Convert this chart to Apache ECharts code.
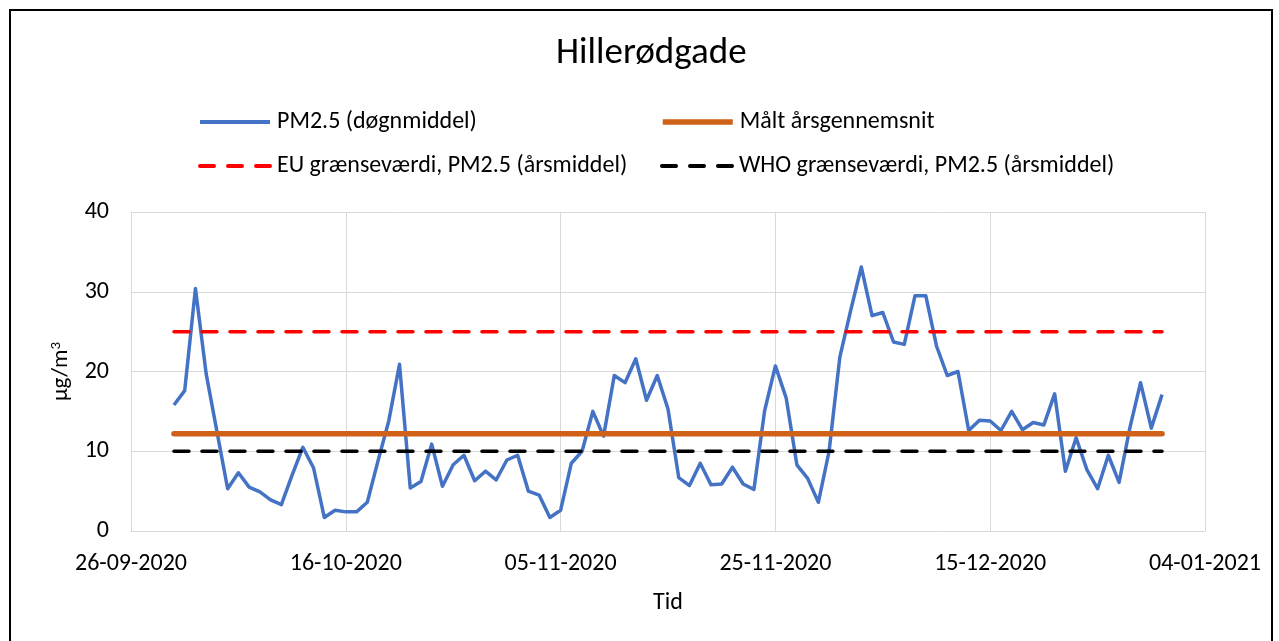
<!DOCTYPE html>
<html><head><meta charset="utf-8">
<script src="https://cdn.jsdelivr.net/npm/echarts@6/dist/echarts.min.js"></script>
<style>html,body{margin:0;padding:0;background:#fff}#c{width:1279px;height:641px}</style>
</head><body><div id="c"></div>
<script>
const chartTitle = 'Hillerødgade';
const seriesNames = ['PM2.5 (døgnmiddel)', 'Målt årsgennemsnit', 'EU grænseværdi, PM2.5 (årsmiddel)', 'WHO grænseværdi, PM2.5 (årsmiddel)'];
const axisStartDate = [2020, 8, 26];   // 26-09-2020 (month 0-based)
const firstDataDate = [2020, 8, 30];   // 30-09-2020
const xTickStepDays = 20;
const xAxisSpanDays = 100;             // 26-09-2020 .. 04-01-2021
const yTicks = [0, 10, 20, 30, 40];
const pm25 = [
  15.8, 17.6, 30.4, 19.7, 12.5, 5.3, 7.3, 5.5, 4.9, 3.9,
  3.3, 7.0, 10.5, 7.9, 1.7, 2.6, 2.4, 2.4, 3.6, 8.8,
  13.8, 20.9, 5.4, 6.2, 10.9, 5.6, 8.3, 9.5, 6.3, 7.5,
  6.4, 8.9, 9.5, 5.0, 4.5, 1.7, 2.6, 8.5, 10.0, 15.0,
  11.9, 19.5, 18.6, 21.6, 16.4, 19.5, 15.3, 6.7, 5.7, 8.5,
  5.8, 5.9, 8.0, 5.9, 5.2, 15.1, 20.7, 16.7, 8.3, 6.6,
  3.6, 10.0, 21.8, 27.6, 33.1, 27.0, 27.4, 23.7, 23.4, 29.5,
  29.5, 23.2, 19.5, 20.0, 12.6, 13.9, 13.8, 12.6, 15.0, 12.7,
  13.6, 13.3, 17.2, 7.5, 11.7, 7.7, 5.3, 9.5, 6.1, 12.9,
  18.6, 12.9, 17.1
];
const maaltAarsgennemsnit = 12.2;
const euGraensevaerdi = 25;
const whoGraensevaerdi = 10;

const DAY = 86400000;
const t0 = Date.UTC(axisStartDate[0], axisStartDate[1], axisStartDate[2]);
const firstOffset = Math.round((Date.UTC(firstDataDate[0], firstDataDate[1], firstDataDate[2]) - t0) / DAY);
const lastOffset = firstOffset + pm25.length - 1;
const pad = n => (n < 10 ? '0' : '') + n;
function fmtDay(d) {
  const dt = new Date(t0 + d * DAY);
  return pad(dt.getUTCDate()) + '-' + pad(dt.getUTCMonth() + 1) + '-' + dt.getUTCFullYear();
}
const pmData = pm25.map((v, i) => [firstOffset + i, v]);
const constLine = v => [[firstOffset, v], [lastOffset, v]];

const FONT = 'Carlito, Calibri, Lato, sans-serif';
const chart = echarts.init(document.getElementById('c'));
function mkLegend(name, left, top, lineStyle) {
  return {
    data: [name], left: left, top: top,
    itemWidth: 70, itemHeight: 14, itemGap: 0, padding: 0,
    itemStyle: { opacity: 0, borderWidth: 0 },
    lineStyle: lineStyle,
    textStyle: { fontFamily: FONT, fontSize: 24, color: '#000', padding: [0, 0, 0, 2] }
  };
}
chart.setOption({
  animation: false,
  backgroundColor: '#fff',
  title: {
    text: chartTitle, left: 556, top: 35, padding: 0,
    textStyle: { fontFamily: FONT, fontSize: 37, fontWeight: 'normal', color: '#000' }
  },
  legend: [
    mkLegend(seriesNames[0], 198, 110, { width: 4, type: 'solid' }),
    mkLegend(seriesNames[1], 660, 110, { width: 5.5, type: 'solid', cap: 'butt' }),
    mkLegend(seriesNames[2], 198, 154, { width: 4, type: [14, 14], cap: 'round' }),
    mkLegend(seriesNames[3], 660, 154, { width: 4, type: [14, 14], cap: 'round' })
  ],
  graphic: [{
    type: 'rect', silent: true,
    shape: { x: 10, y: 10, width: 1262, height: 700 },
    style: { fill: 'none', stroke: '#000', lineWidth: 2 }
  }],
  grid: { left: 131, right: 74, top: 212, bottom: 110 },
  xAxis: {
    type: 'value', min: 0, max: xAxisSpanDays, interval: xTickStepDays,
    name: 'Tid', nameLocation: 'middle', nameGap: 60,
    nameTextStyle: { fontFamily: FONT, fontSize: 24, color: '#000' },
    axisLine: { show: true, lineStyle: { color: '#d9d9d9', width: 1 } },
    axisTick: { show: false },
    axisLabel: { formatter: v => fmtDay(v), fontFamily: FONT, fontSize: 24, color: '#000', margin: 21 },
    splitLine: { show: true, lineStyle: { color: '#d9d9d9', width: 1 } }
  },
  yAxis: {
    type: 'value', min: yTicks[0], max: yTicks[yTicks.length - 1], interval: yTicks[1] - yTicks[0],
    name: 'µg/m{s|3}', nameLocation: 'middle', nameGap: 58, nameRotate: 90,
    nameTextStyle: { fontFamily: FONT, fontSize: 23, color: '#000',
      rich: { s: { fontFamily: FONT, fontSize: 15, color: '#000', verticalAlign: 'top', padding: [0, 0, 9, 0] } } },
    axisLine: { show: true, lineStyle: { color: '#d9d9d9', width: 1 } },
    axisTick: { show: false },
    axisLabel: { fontFamily: FONT, fontSize: 24, color: '#000', margin: 22 },
    splitLine: { show: true, lineStyle: { color: '#d9d9d9', width: 1 } }
  },
  series: [
    { name: seriesNames[0], type: 'line', data: pmData, showSymbol: false, symbol: 'none',
      lineStyle: { color: '#4472C4', width: 3.5, join: 'round' }, itemStyle: { color: '#4472C4' } },
    { name: seriesNames[1], type: 'line', data: constLine(maaltAarsgennemsnit), showSymbol: false, symbol: 'none',
      lineStyle: { color: '#CF6118', width: 5.5, cap: 'round' }, itemStyle: { color: '#CF6118' } },
    { name: seriesNames[2], type: 'line', data: constLine(euGraensevaerdi), showSymbol: false, symbol: 'none',
      lineStyle: { color: '#FF0000', width: 3.5, type: [15, 13], cap: 'round' }, itemStyle: { color: '#FF0000' } },
    { name: seriesNames[3], type: 'line', data: constLine(whoGraensevaerdi), showSymbol: false, symbol: 'none',
      lineStyle: { color: '#000000', width: 3.5, type: [15, 13], cap: 'round' }, itemStyle: { color: '#000000' } }
  ]
});
</script></body></html>
